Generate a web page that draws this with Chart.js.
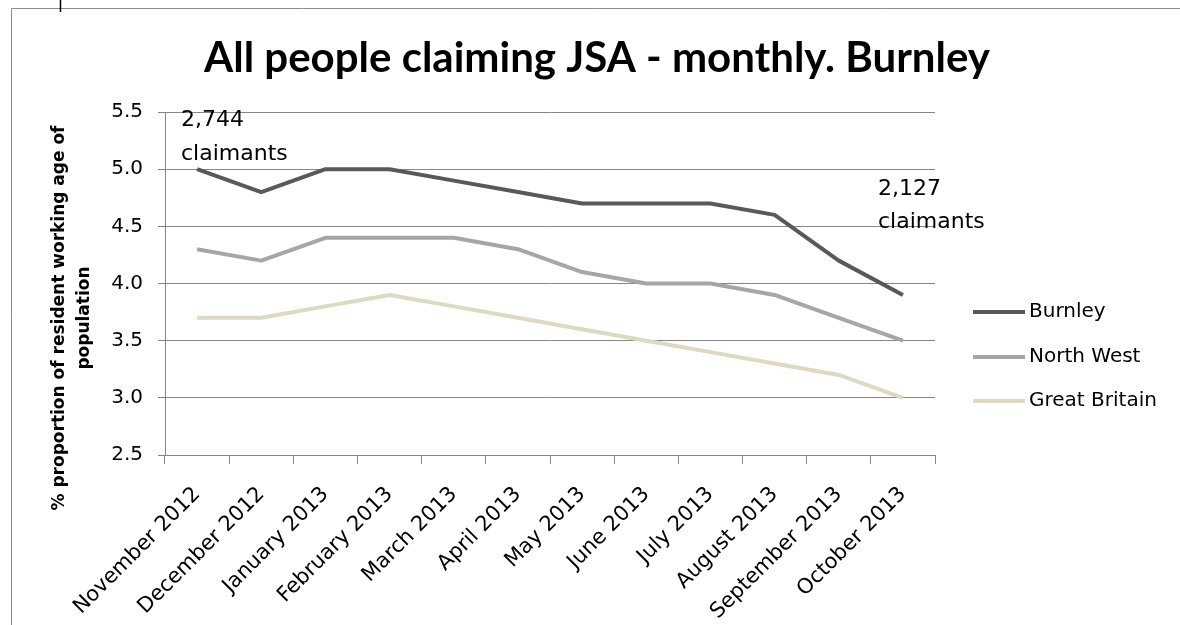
<!DOCTYPE html>
<html>
<head>
<meta charset="utf-8">
<script src="https://cdn.jsdelivr.net/npm/chart.js@4.4.1/dist/chart.umd.min.js"></script>
<style>
    html, body { margin: 0; padding: 0; background: #ffffff; }
    #wrap { width: 1180px; height: 625px; }
</style>
</head>
<body>
<div id="wrap"><canvas id="jsaChart" width="1180" height="625"></canvas></div>
<script>
// Data
const months = ['November 2012', 'December 2012', 'January 2013', 'February 2013', 'March 2013', 'April 2013',
    'May 2013', 'June 2013', 'July 2013', 'August 2013', 'September 2013', 'October 2013'];
const burnley = [5.0, 4.8, 5.0, 5.0, 4.9, 4.8, 4.7, 4.7, 4.7, 4.6, 4.2, 3.9];
const northWest = [4.3, 4.2, 4.4, 4.4, 4.4, 4.3, 4.1, 4.0, 4.0, 3.9, 3.7, 3.5];
const greatBritain = [3.7, 3.7, 3.8, 3.9, 3.8, 3.7, 3.6, 3.5, 3.4, 3.3, 3.2, 3.0];
const seriesNames = ['Burnley', 'North West', 'Great Britain'];
const seriesColors = ['#595959', '#a6a6a6', '#ddd9c3'];
const yMin = 2.5, yMax = 5.5, yStep = 0.5;

const titleText = 'All people claiming JSA - monthly. Burnley';
const yTitleLines = ['% proportion of resident working age of', 'population'];
const firstNote = ['2,744', 'claimants'];
const lastNote = ['2,127', 'claimants'];

const gridColor = '#868686';
const labelFont = 'DejaVu Sans';

// Title, axis title, legend, notes and frame drawn on the canvas
const extrasPlugin = {
    id: 'extras',
    afterDraw(chart) {
        const ctx = chart.ctx;
        ctx.save();

        // frame (cropped: only top and left edges visible)
        ctx.strokeStyle = '#8c8c8c';
        ctx.lineWidth = 1;
        ctx.beginPath();
        ctx.moveTo(11.5, 625);
        ctx.lineTo(11.5, 8.5);
        ctx.lineTo(1180, 8.5);
        ctx.stroke();
        ctx.strokeStyle = '#000';
        ctx.lineWidth = 1.5;
        ctx.beginPath();
        ctx.moveTo(60.5, 0);
        ctx.lineTo(60.5, 12);
        ctx.stroke();

        // chart title
        ctx.fillStyle = '#000';
        ctx.font = 'bold 42px Lato';
        ctx.textAlign = 'center';
        ctx.textBaseline = 'alphabetic';
        ctx.fillText(titleText, 597, 72);

        // y axis title
        ctx.save();
        ctx.translate(60, 318);
        ctx.rotate(-Math.PI / 2);
        ctx.font = 'bold 17px "DejaVu Sans"';
        ctx.textBaseline = 'middle';
        ctx.fillText(yTitleLines[0], 0, 0);
        ctx.fillText(yTitleLines[1], 0, 25);
        ctx.restore();

        // notes at the first and last points
        ctx.font = '22px ' + labelFont;
        ctx.textAlign = 'left';
        ctx.fillText(firstNote[0], 181, 126);
        ctx.fillText(firstNote[1], 181, 160);
        ctx.fillText(lastNote[0], 878, 195);
        ctx.fillText(lastNote[1], 878, 228);

        // legend
        const legendY = [312, 357, 401];
        ctx.font = '20px ' + labelFont;
        ctx.textBaseline = 'middle';
        chart.data.datasets.forEach((ds, i) => {
            ctx.strokeStyle = ds.borderColor;
            ctx.lineWidth = 4;
            ctx.beginPath();
            ctx.moveTo(973, legendY[i]);
            ctx.lineTo(1025, legendY[i]);
            ctx.stroke();
            ctx.fillStyle = '#000';
            ctx.fillText(ds.label, 1029, legendY[i]);
        });
        ctx.restore();
    }
};

new Chart(document.getElementById('jsaChart'), {
    type: 'line',
    data: {
        labels: months,
        datasets: [
            { label: seriesNames[0], data: burnley, borderColor: seriesColors[0] },
            { label: seriesNames[1], data: northWest, borderColor: seriesColors[1] },
            { label: seriesNames[2], data: greatBritain, borderColor: seriesColors[2] }
        ]
    },
    options: {
        responsive: false,
        animation: false,
        devicePixelRatio: 1,
        layout: { padding: { top: 112, right: 245, bottom: 0, left: 0 } },
        elements: {
            line: { borderWidth: 4, tension: 0, borderCapStyle: 'butt', borderJoinStyle: 'round' },
            point: { radius: 0, hoverRadius: 0 }
        },
        scales: {
            x: {
                type: 'category',
                offset: true,
                grid: { offset: true, drawOnChartArea: false, tickLength: 9, color: gridColor, lineWidth: 1 },
                border: { color: gridColor, width: 1 },
                ticks: {
                    autoSkip: false, minRotation: 45, maxRotation: 45,
                    color: '#000', padding: 18,
                    font: { family: labelFont, size: 21 }
                },
                afterFit(scale) { scale.height = 170; }
            },
            y: {
                min: yMin,
                max: yMax,
                grid: { color: gridColor, lineWidth: 1, tickLength: 7 },
                border: { color: gridColor, width: 1 },
                ticks: {
                    stepSize: yStep,
                    color: '#000', padding: 15,
                    font: { family: labelFont, size: 20 },
                    callback: (v) => Number(v).toFixed(1)
                },
                afterFit(scale) { scale.width = 165; }
            }
        },
        plugins: {
            legend: { display: false },
            tooltip: { enabled: false }
        }
    },
    plugins: [extrasPlugin]
});
</script>
</body>
</html>
